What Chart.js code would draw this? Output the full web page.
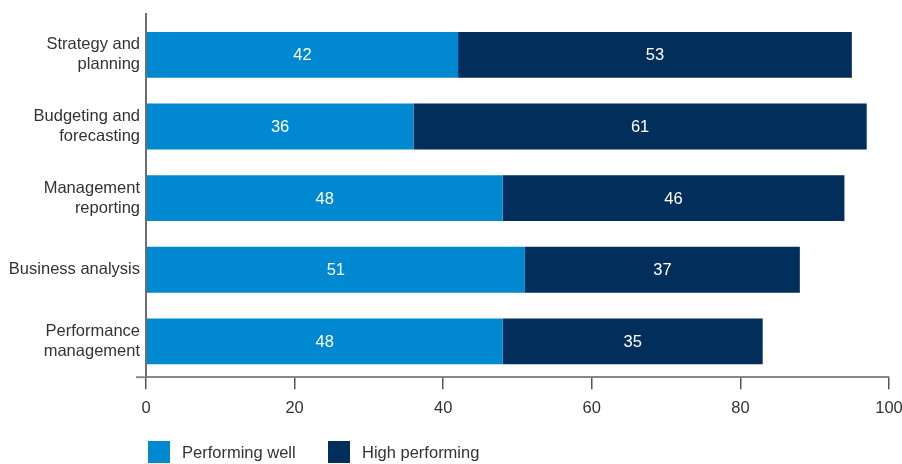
<!DOCTYPE html>
<html>
<head>
<meta charset="utf-8">
<script src="https://cdn.jsdelivr.net/npm/chart.js@4.4.1/dist/chart.umd.min.js"></script>
<style>
  html, body { margin: 0; padding: 0; background: #fff; }
  #wrap { width: 902px; height: 464px; }
</style>
</head>
<body>
<div id="wrap"><canvas id="financeChart"></canvas></div>
<script>
// categories and values
var categories = [
    ['Strategy and', 'planning'],
    ['Budgeting and', 'forecasting'],
    ['Management', 'reporting'],
    'Business analysis',
    ['Performance', 'management']
];
var performingWell = [42, 36, 48, 51, 48];
var highPerforming = [53, 61, 46, 37, 35];
var xTicks = [0, 20, 40, 60, 80, 100];

var lightBlue = '#0088d1';
var navy = '#022e5b';
var textColor = '#333333';
var fontFamily = '"Liberation Sans", Arial, Helvetica, sans-serif';
var fontSize = 16.5;

// white numbers in the middle of each bar segment
var barValues = {
    id: 'barValues',
    afterDatasetsDraw: function(chart) {
        var ctx = chart.ctx;
        ctx.save();
        ctx.fillStyle = '#ffffff';
        ctx.font = fontSize + 'px ' + fontFamily;
        ctx.textAlign = 'center';
        ctx.textBaseline = 'middle';
        chart.data.datasets.forEach(function(ds, i) {
            chart.getDatasetMeta(i).data.forEach(function(bar, j) {
                var cx = (bar.x + bar.base) / 2;
                ctx.fillText(ds.data[j], cx, bar.y + 1);
            });
        });
        ctx.restore();
    }
};

// y axis line runs a little above the plot, x axis line a little left of it,
// legend sits under the x axis
var extras = {
    id: 'extras',
    afterDraw: function(chart) {
        var ctx = chart.ctx;
        var area = chart.chartArea;
        ctx.save();
        ctx.strokeStyle = '#6f6f6f';
        ctx.lineWidth = 2;
        ctx.beginPath();
        ctx.moveTo(area.left, area.top - 6);
        ctx.lineTo(area.left, area.top);
        ctx.stroke();

        ctx.strokeStyle = '#888888';
        ctx.beginPath();
        ctx.moveTo(area.left - 10, area.bottom);
        ctx.lineTo(area.left, area.bottom);
        ctx.stroke();

        // legend
        var x = chart.scales.x.left + 2;
        var y = 441;
        ctx.font = fontSize + 'px ' + fontFamily;
        ctx.textBaseline = 'middle';
        ctx.textAlign = 'left';
        var gaps = [0, 180];
        chart.data.datasets.forEach(function(ds, i) {
            var bx = x + gaps[i];
            ctx.fillStyle = ds.backgroundColor;
            ctx.fillRect(bx, y, 22, 22);
            ctx.fillStyle = textColor;
            ctx.fillText(ds.label, bx + 34, y + 12);
        });
        ctx.restore();
    }
};

var ctx = document.getElementById('financeChart').getContext('2d');
var financeChart = new Chart(ctx, {
    type: 'bar',
    data: {
        labels: categories,
        datasets: [{
            label: 'Performing well',
            backgroundColor: lightBlue,
            data: performingWell
        }, {
            label: 'High performing',
            backgroundColor: navy,
            data: highPerforming
        }]
    },
    options: {
        indexAxis: 'y',
        responsive: true,
        maintainAspectRatio: false,
        animation: false,
        layout: {
            padding: { top: 19, right: 13, bottom: 37, left: 0 }
        },
        datasets: {
            bar: {
                categoryPercentage: 1,
                barPercentage: 0.64,
                borderWidth: 0
            }
        },
        plugins: {
            legend: { display: false },
            tooltip: { enabled: false }
        },
        scales: {
            x: {
                stacked: true,
                min: 0,
                max: 100,
                afterBuildTicks: function(scale) {
                    scale.ticks = xTicks.map(function(v) { return { value: v }; });
                },
                afterFit: function(scale) {
                    scale.paddingLeft = 0;
                    scale.paddingRight = 0;
                },
                border: { display: true, color: '#888888', width: 2 },
                grid: {
                    drawOnChartArea: false,
                    drawTicks: true,
                    tickLength: 12,
                    color: '#555555',
                    lineWidth: 1.5
                },
                ticks: {
                    padding: 9,
                    color: textColor,
                    font: { family: fontFamily, size: fontSize },
                    maxRotation: 0
                }
            },
            y: {
                stacked: true,
                afterFit: function(scale) {
                    scale.width = 146;
                    scale.paddingTop = 0;
                    scale.paddingBottom = 0;
                },
                border: { display: true, color: '#6f6f6f', width: 2 },
                grid: { display: false, drawTicks: false },
                ticks: {
                    padding: 6,
                    color: textColor,
                    font: { family: fontFamily, size: fontSize, lineHeight: 1.2 }
                }
            }
        }
    },
    plugins: [barValues, extras]
});
</script>
</body>
</html>
